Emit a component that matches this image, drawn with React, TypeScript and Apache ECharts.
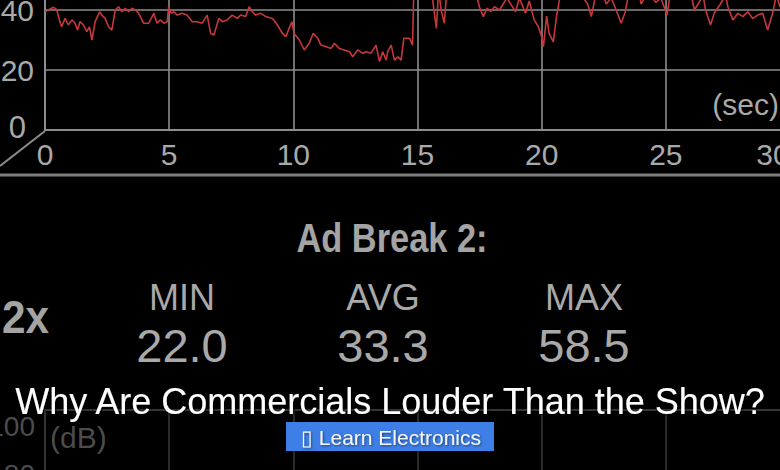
import React, { useEffect, useRef } from "react";
import * as echarts from "echarts";

// ---- data ----
const TIME_S: number[] = [
  0.0, 0.13, 0.34, 0.47, 0.58, 0.67, 0.81, 0.94, 1.08, 1.21, 1.31, 1.41, 1.55, 1.68, 1.79, 1.89,
  2.02, 2.2, 2.29, 2.42, 2.56, 2.69, 2.83, 2.96, 3.1, 3.23, 3.37, 3.5, 3.64, 3.77, 3.97, 4.18,
  4.38, 4.51, 4.65, 4.78, 4.92, 4.98, 5.08, 5.19, 5.32, 5.52, 5.72, 5.93, 6.13, 6.33, 6.53, 6.67,
  6.8, 7.0, 7.14, 7.34, 7.54, 7.74, 7.88, 8.08, 8.22, 8.35, 8.48, 8.69, 8.89, 9.16, 9.36, 9.56,
  9.7, 9.83, 9.94, 10.03, 10.24, 10.44, 10.64, 10.8, 10.98, 11.11, 11.31, 11.52, 11.65, 11.85,
  12.05, 12.26, 12.39, 12.59, 12.79, 12.93, 13.13, 13.33, 13.47, 13.6, 13.74, 13.8, 13.94, 14.07,
  14.21, 14.34, 14.45, 14.68, 14.8, 14.86,
  15.0, 15.2, 15.45, 15.6, 15.76, 15.85, 15.95, 16.08, 16.2, 16.6, 17.0, 17.4, 17.5, 17.65, 17.8,
  17.95, 18.1, 18.3, 18.6, 18.95, 19.1, 19.35, 19.5, 19.7, 19.87, 20.0, 20.07, 20.2, 20.3, 20.47,
  20.6, 20.75, 21.0, 21.3, 21.6, 21.85, 22.0, 22.15, 22.4, 22.6, 22.8, 23.0, 23.2, 23.35, 23.5,
  23.9, 24.0, 24.3, 24.6, 24.8, 25.05, 25.2, 25.6, 26.0, 26.15, 26.3, 26.5, 26.6, 26.8, 26.95,
  27.2, 27.4, 27.5, 27.7, 27.9, 28.1, 28.3, 28.5, 28.7, 28.9, 29.1, 29.3, 29.45, 29.6, 29.8, 30.0,
];
const LEVEL_DB: number[] = [
  39.4, 40.0, 40.9, 40.2, 36.7, 34.4, 37.2, 35.0, 36.7, 35.6, 33.3, 36.1, 35.0, 32.8, 34.4, 30.0,
  36.1, 39.4, 38.3, 37.2, 34.4, 33.3, 40.0, 41.1, 39.4, 40.6, 39.4, 40.6, 40.0, 38.9, 35.6, 35.6,
  38.9, 35.6, 36.7, 35.6, 36.1, 41.1, 38.9, 39.4, 38.3, 38.9, 38.3, 36.1, 36.1, 35.6, 38.3, 32.2,
  31.7, 37.2, 36.1, 36.7, 38.3, 37.2, 38.3, 37.8, 41.1, 39.4, 38.3, 38.9, 37.8, 37.2, 35.0, 32.2,
  31.1, 33.9, 36.1, 32.2, 30.0, 26.7, 28.9, 32.2, 30.6, 28.3, 27.8, 27.2, 28.9, 27.2,
  26.7, 26.1, 24.4, 26.7, 25.6, 26.1, 25.6, 28.3, 22.8, 26.1, 23.3, 26.1, 28.3, 23.3,
  24.4, 23.3, 30.6, 30.6, 28.3, 50.0,
  47.0, 52.0, 48.0, 44.0, 33.9, 47.0, 40.0, 35.6, 49.0, 46.0, 50.0, 44.0, 40.9, 37.8, 40.6,
  39.5, 41.1, 40.0, 44.0, 39.4, 44.0, 38.9, 43.0, 36.7, 34.4, 31.1, 27.8, 38.0, 32.2, 29.4,
  38.0, 45.0, 48.0, 46.0, 45.0, 42.0, 37.8, 44.0, 47.0, 42.0, 44.0, 40.0, 35.6, 39.0, 45.0,
  48.0, 42.0, 46.0, 42.5, 44.0, 38.3, 47.0, 50.0, 46.0, 40.0, 42.0, 45.0, 40.0, 35.0, 39.0,
  42.0, 45.0, 41.0, 36.7, 38.9, 37.8, 39.4, 37.2, 38.3, 38.9, 33.3, 38.9, 45.0, 41.0, 46.0, 44.0,
];
const X_TICKS_SEC = { min: 0, max: 30, step: 5 };
const Y_TICKS_DB = { min: 0, max: 100, step: 20 };
const TITLE = "Why Are Commercials Louder Than the Show?";
const BREAK_LABEL = "Ad Break 2:";
const SPEED_LABEL = "2x";
const STAT_NAMES: string[] = ["MIN", "AVG", "MAX"];
const STAT_VALUES: string[] = ["22.0", "33.3", "58.5"];
const BUTTON_LABEL = "▯ Learn Electronics";

// ---- layout / style ----
const FONT = '"Liberation Sans", Arial, sans-serif';
const GREY = "#a9a9a9";
const LINE_GREY = "#8c8c8c";
const DIM = "#4c4c4c";
const STAT_X = [182, 383, 584];
const TOP_VISIBLE_MAX_DB = 40; // labels above this fall outside the picture
const LOW_VISIBLE_MIN_DB = 80; // labels below this fall outside the picture

export default function App() {
  const ref = useRef<HTMLDivElement>(null);

  useEffect(() => {
    if (!ref.current) return;
    const chart = echarts.init(ref.current, undefined, { renderer: "svg" });
    const data = TIME_S.map((t, i) => [t, LEVEL_DB[i]]);

    const graphic: any[] = [
      { type: "line", silent: true, shape: { x1: 45, y1: 131, x2: 0, y2: 166 }, style: { stroke: LINE_GREY, lineWidth: 2 } },
      { type: "line", silent: true, shape: { x1: 0, y1: 175, x2: 780, y2: 175 }, style: { stroke: "#7c7c7c", lineWidth: 3 } },
      { type: "text", x: 779, y: 104, style: { text: "(sec)", fill: GREY, fontFamily: FONT, fontSize: 30, align: "right", verticalAlign: "middle" } },
      { type: "text", x: 392, y: 238, scaleX: 0.86, style: { text: BREAK_LABEL, fill: "#a4a4a4", fontFamily: FONT, fontWeight: "bold", fontSize: 40, align: "center", verticalAlign: "middle" } },
      { type: "text", x: 2, y: 317, scaleX: 0.92, style: { text: SPEED_LABEL, fill: "#a4a4a4", fontFamily: FONT, fontWeight: "bold", fontSize: 46, align: "left", verticalAlign: "middle" } },
      { type: "text", x: 50, y: 437, z: 1, style: { text: "(dB)", fill: DIM, fontFamily: FONT, fontSize: 30, align: "left", verticalAlign: "middle" } },
      { type: "text", x: 390, y: 401, z: 50, style: { text: TITLE, fill: "#ffffff", fontFamily: FONT, fontSize: 36, align: "center", verticalAlign: "middle", textShadowColor: "rgba(0,0,0,0.8)", textShadowBlur: 3, textShadowOffsetX: 1, textShadowOffsetY: 1 } },
      { type: "rect", z: 50, shape: { x: 286, y: 422, width: 208, height: 29 }, style: { fill: "#3d7fe6" } },
      { type: "text", x: 391, y: 437, z: 51, style: { text: BUTTON_LABEL, fill: "#f4f4f4", fontFamily: FONT, fontSize: 21, align: "center", verticalAlign: "middle", textShadowColor: "rgba(0,0,0,0.5)", textShadowBlur: 2, textShadowOffsetX: 1, textShadowOffsetY: 1 } },
    ];
    STAT_NAMES.forEach((name, i) => {
      graphic.push({ type: "text", x: STAT_X[i], y: 297, style: { text: name, fill: GREY, fontFamily: FONT, fontSize: 36, align: "center", verticalAlign: "middle" } });
      graphic.push({ type: "text", x: STAT_X[i], y: 345, style: { text: STAT_VALUES[i], fill: GREY, fontFamily: FONT, fontSize: 47, align: "center", verticalAlign: "middle" } });
    });

    chart.setOption({
      animation: false,
      backgroundColor: "#000000",
      textStyle: { fontFamily: FONT },
      grid: [
        { left: 45, right: -10, top: -170, height: 300, containLabel: false, outerBoundsMode: "none" },
        { left: 45, right: -10, top: 410, height: 256, outerBoundsMode: "none", show: true, borderColor: "#353535", borderWidth: 2, backgroundColor: "transparent" },
      ],
      xAxis: [
        {
          type: "value", gridIndex: 0, min: X_TICKS_SEC.min, max: X_TICKS_SEC.max, interval: X_TICKS_SEC.step,
          axisLine: { show: true, lineStyle: { color: LINE_GREY, width: 2 } },
          axisTick: { show: false },
          splitLine: { show: true, lineStyle: { color: LINE_GREY, width: 1.6 } },
          axisLabel: {
            color: GREY, fontSize: 30, margin: 9, showMaxLabel: true,
            formatter: (v: number) => (v === X_TICKS_SEC.max ? `{last|${v}}` : `${v}`),
            rich: { last: { color: GREY, fontSize: 30, padding: [0, 34, 0, 0] } },
          },
        },
        {
          type: "value", gridIndex: 1, min: X_TICKS_SEC.min, max: X_TICKS_SEC.max, interval: X_TICKS_SEC.step,
          axisLine: { show: false }, axisTick: { show: false }, axisLabel: { show: false },
          splitLine: { show: true, lineStyle: { color: "#353535", width: 1.6 } },
        },
      ],
      yAxis: [
        {
          type: "value", gridIndex: 0, min: Y_TICKS_DB.min, max: Y_TICKS_DB.max, interval: Y_TICKS_DB.step,
          axisLine: { show: true, lineStyle: { color: LINE_GREY, width: 2 } },
          axisTick: { show: false },
          splitLine: { show: true, lineStyle: { color: LINE_GREY, width: 1.6 } },
          axisLabel: {
            color: GREY, fontSize: 30, margin: 11,
            formatter: (v: number) =>
              v > TOP_VISIBLE_MAX_DB ? "" : v === 0 ? `{zero|${v}}` : `${v}`,
            rich: { zero: { color: GREY, fontSize: 31, padding: [0, 8, 6, 0] } },
          },
        },
        {
          type: "value", gridIndex: 1, min: 0, max: 106.67, interval: Y_TICKS_DB.step,
          axisLine: { show: false }, axisTick: { show: false }, splitLine: { show: false },
          axisLabel: {
            color: DIM, fontSize: 28, margin: 10,
            formatter: (v: number) =>
              v % Y_TICKS_DB.step === 0 && v >= LOW_VISIBLE_MIN_DB ? `${v}` : "",
          },
        },
      ],
      series: [
        {
          type: "line", xAxisIndex: 0, yAxisIndex: 0, data, showSymbol: false, symbol: "none",
          lineStyle: { color: "#c4383c", width: 1.6 }, z: 5,
        },
      ],
      graphic,
    });
    return () => chart.dispose();
  }, []);

  return (
    <div
      ref={ref}
      style={{ position: "fixed", left: 0, top: 0, width: 780, height: 470, background: "#000" }}
    />
  );
}
